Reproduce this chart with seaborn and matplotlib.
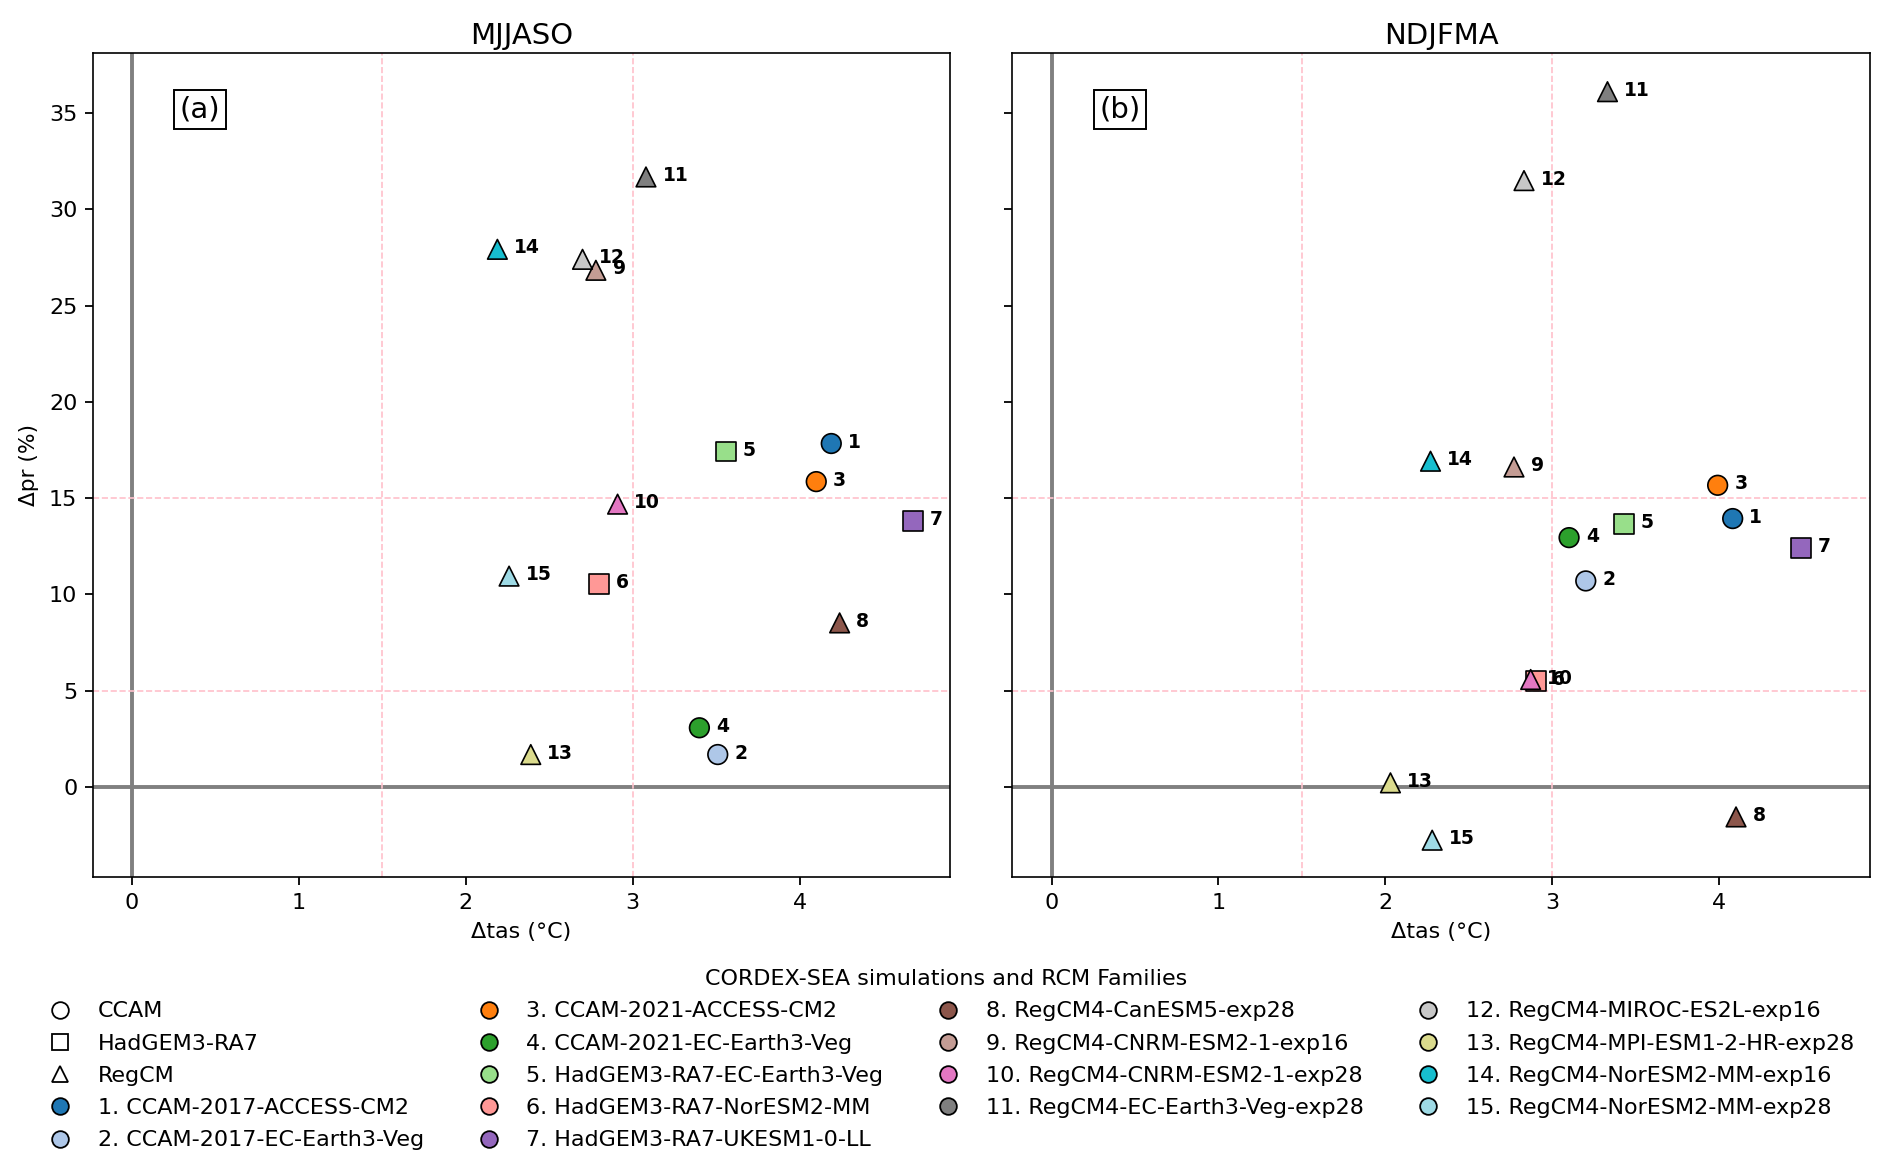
import numpy as np
import pandas as pd
import seaborn as sns
import matplotlib.pyplot as plt
from matplotlib.lines import Line2D

#---- Data ----#
ids = list(range(1, 16))
names = ['CCAM-2017-ACCESS-CM2', 'CCAM-2017-EC-Earth3-Veg', 'CCAM-2021-ACCESS-CM2',
         'CCAM-2021-EC-Earth3-Veg', 'HadGEM3-RA7-EC-Earth3-Veg', 'HadGEM3-RA7-NorESM2-MM',
         'HadGEM3-RA7-UKESM1-0-LL', 'RegCM4-CanESM5-exp28', 'RegCM4-CNRM-ESM2-1-exp16',
         'RegCM4-CNRM-ESM2-1-exp28', 'RegCM4-EC-Earth3-Veg-exp28', 'RegCM4-MIROC-ES2L-exp16',
         'RegCM4-MPI-ESM1-2-HR-exp28', 'RegCM4-NorESM2-MM-exp16', 'RegCM4-NorESM2-MM-exp28']
families = ['CCAM'] * 4 + ['HadGEM3-RA7'] * 3 + ['RegCM'] * 8
colors = ['#1f77b4', '#aec7e8', '#ff7f0e', '#2ca02c', '#98df8a', '#ff9896', '#9467bd',
          '#8c564b', '#c49c94', '#e377c2', '#7f7f7f', '#c7c7c7', '#dbdb8d', '#17becf', '#9edae5']

tas_mjjaso = [4.19, 3.51, 4.10, 3.40, 3.56, 2.80, 4.68, 4.24, 2.78, 2.91, 3.08, 2.70, 2.39, 2.19, 2.26]
pr_mjjaso = [17.84, 1.68, 15.86, 3.07, 17.42, 10.53, 13.82, 8.52, 26.84, 14.69, 31.69, 27.41, 1.68, 27.93, 10.95]
tas_ndjfma = [4.08, 3.20, 3.99, 3.10, 3.43, 2.90, 4.49, 4.10, 2.77, 2.87, 3.33, 2.83, 2.03, 2.27, 2.28]
pr_ndjfma = [13.94, 10.70, 15.67, 12.95, 13.65, 5.51, 12.42, -1.56, 16.62, 5.58, 36.12, 31.50, 0.21, 16.92, -2.77]

seasons = ['MJJASO', 'NDJFMA']
panel_tags = ['(a)', '(b)']
family_markers = {'CCAM': 'o', 'HadGEM3-RA7': 's', 'RegCM': '^'}

labels = ['{}. {}'.format(i, n) for i, n in zip(ids, names)]
palette = dict(zip(labels, colors))

df = pd.DataFrame({'id': ids * 2,
                   'label': labels * 2,
                   'family': families * 2,
                   'season': ['MJJASO'] * 15 + ['NDJFMA'] * 15,
                   'tas': tas_mjjaso + tas_ndjfma,
                   'pr': pr_mjjaso + pr_ndjfma})

fig, axes = plt.subplots(1, 2, figsize=(18.92, 11.69), dpi=100, sharex=True, sharey=True)
fig.subplots_adjust(left=0.049, right=0.9885, top=0.955, bottom=0.2495, wspace=0.0723)

for ax, season, tag in zip(axes, seasons, panel_tags):
    sub = df[df['season'] == season]

    ax.axhline(0, color='gray', lw=2.8, zorder=1)
    ax.axvline(0, color='gray', lw=2.8, zorder=1)
    for xv in [1.5, 3.0]:
        ax.axvline(xv, color='pink', ls='--', lw=1.2, zorder=1)
    for yv in [5, 15]:
        ax.axhline(yv, color='pink', ls='--', lw=1.2, zorder=1)

    sns.scatterplot(data=sub, x='tas', y='pr', hue='label', style='family',
                    palette=palette, markers=family_markers, s=200,
                    edgecolor='black', linewidth=1.2, legend=False, ax=ax, zorder=3)

    # bold run number next to every marker
    for _, row in sub.iterrows():
        ax.annotate(str(row['id']), (row['tas'], row['pr']), xytext=(12, 1),
                    textcoords='offset points', fontsize=13.5, fontweight='bold',
                    va='center', ha='left', zorder=4)

    ax.text(0.125, 0.931, tag, transform=ax.transAxes, fontsize=21,
            ha='center', va='center',
            bbox=dict(facecolor='white', edgecolor='black', linewidth=1.4))

    ax.set_title(season, fontsize=21)
    ax.set_xlabel('Δtas (°C)', fontsize=16, labelpad=7)
    ax.set_ylabel('Δpr (%)', fontsize=15.6, labelpad=7)
    ax.tick_params(labelsize=16, width=1.3, length=5.5, pad=5.5)
    for sp in ax.spines.values():
        sp.set_linewidth(1.2)

axes[0].set_xlim(-0.234, 4.904)
axes[0].set_ylim(-4.7, 38.15)

#---- Legend: families then simulations ----#
handles = []
for fam, mk in family_markers.items():
    handles.append(Line2D([], [], marker=mk, linestyle='None', markerfacecolor='none',
                          markeredgecolor='black', markersize=12, markeredgewidth=1.3,
                          label=fam))
for lab in labels:
    handles.append(Line2D([], [], marker='o', linestyle='None', markerfacecolor=palette[lab],
                          markeredgecolor='black', markersize=12, markeredgewidth=1.3,
                          label=lab))

fig.legend(handles=handles, loc='upper center', bbox_to_anchor=(0.5, 0.188), ncol=4,
           frameon=False, fontsize=16, title='CORDEX-SEA simulations and RCM Families',
           title_fontsize=16, columnspacing=1.9, handletextpad=0.7, labelspacing=0.55)

fig.savefig('out.png', dpi=100)
